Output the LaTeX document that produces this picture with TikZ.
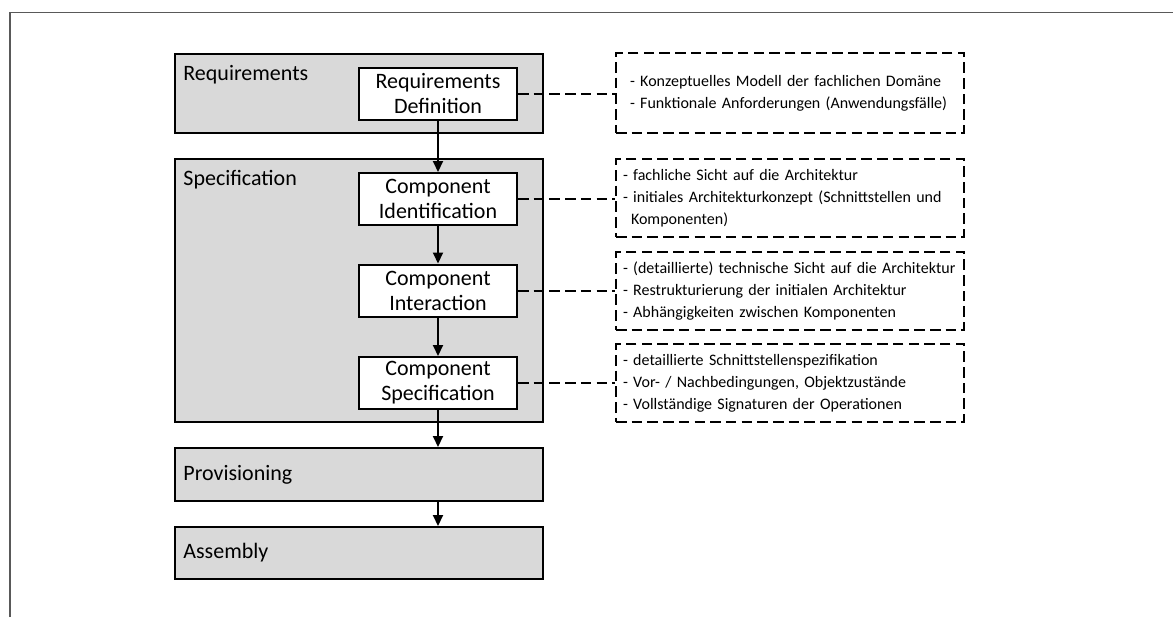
\documentclass[tikz,border=0pt]{standalone}
\usepackage{fontspec}
\setmainfont{Carlito}
\usepackage{tikz}
\usetikzlibrary{arrows.meta,positioning}
\definecolor{phasegray}{HTML}{D9D9D9}
\definecolor{framegray}{HTML}{595959}

\begin{document}
\begin{tikzpicture}[x=0.5pt,y=-0.5pt,
	phase/.style={draw,line width=1pt,fill=phasegray,minimum width=184pt,inner sep=0pt},
	phaselabel/.style={anchor=west,inner sep=0pt,font=\fontsize{11pt}{13pt}\selectfont},
	workflow/.style={draw,line width=1pt,fill=white,minimum width=79pt,minimum height=26pt,inner sep=0pt,align=center,font=\fontsize{11pt}{12.5pt}\selectfont},
	note/.style={draw,line width=1pt,dash pattern=on 5.25pt off 2.6pt,anchor=west,minimum height=39pt,inner ysep=0pt,inner xsep=3.5pt,text width=167pt,align=left,font=\fontsize{8pt}{11pt}\selectfont},
	flow/.style={-{Triangle[width=5pt,length=5.5pt]},line width=1pt},
	link/.style={line width=1pt,dash pattern=on 5.25pt off 2.6pt}
]
	\useasboundingbox (0,0) rectangle (1173,617);
	\draw[framegray,line width=0.6pt] (10,617) -- (10,12.5) -- (1173,12.5);
	%
	\node[phase,minimum height=39.5pt] (req) at (359,93.5) {};
	\node[phase,minimum height=131.5pt] (spec) at (359,290.5) {};
	\node[phase,minimum height=26.5pt] (prov) at (359,474.5) {};
	\node[phase,minimum height=26pt] (asm) at (359,553) {};
	\node[phaselabel] (reqlabel) at (183,75) {Requirements};
	\node[phaselabel] (speclabel) at (183,180) {Specification};
	\node[phaselabel] (provlabel) at (183,474.5) {Provisioning};
	\node[phaselabel] (asmlabel) at (183,553) {Assembly};
	%
	\node[workflow] (rd) at (438,94) {Requirements\\Definition};
	\node[workflow] (ci) at (438,199) {Component\\Identification};
	\node[workflow] (cint) at (438,290.5) {Component\\Interaction};
	\node[workflow] (cs) at (438,383) {Component\\Specification};
	%
	\node[note,minimum height=40pt,inner xsep=7pt,text width=160pt] (n1) at (615,93)
		{- Konzeptuelles Modell der fachlichen Domäne\\- Funktionale Anforderungen (Anwendungsfälle)};
	\node[note] (n2) at (615,198)
		{- fachliche Sicht auf die Architektur\\- initiales Architekturkonzept (Schnittstellen und\\\hspace*{4pt}Komponenten)};
	\node[note] (n3) at (615,291)
		{- (detaillierte) technische Sicht auf die Architektur\\- Restrukturierung der initialen Architektur\\- Abhängigkeiten zwischen Komponenten};
	\node[note] (n4) at (615,383)
		{- detaillierte Schnittstellenspezifikation\\- Vor- / Nachbedingungen, Objektzustände\\- Vollständige Signaturen der Operationen};
	%
	\draw[flow] (rd) -- (ci);
	\draw[flow] (ci) -- (cint);
	\draw[flow] (cint) -- (cs);
	\draw[flow] (cs) -- (cs |- prov.north);
	\draw[flow] (cs |- prov.south) -- (cs |- asm.north);
	%
	\draw[link] (rd.east) -- (rd.east -| n1.west);
	\draw[link] (ci.east) -- (ci.east -| n2.west);
	\draw[link] (cint.east) -- (cint.east -| n3.west);
	\draw[link] (cs.east) -- (cs.east -| n4.west);
\end{tikzpicture}
\end{document}
